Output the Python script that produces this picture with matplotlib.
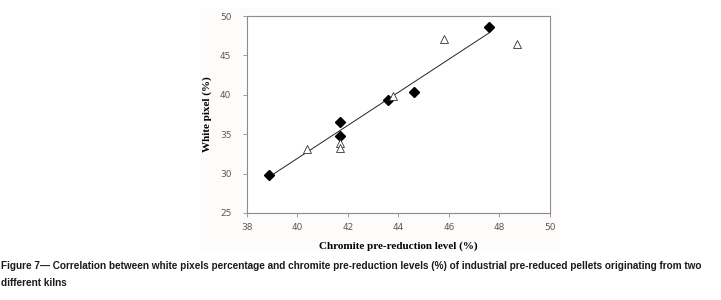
import numpy as np
import matplotlib
matplotlib.use('Agg')
import matplotlib.pyplot as plt
from matplotlib import font_manager
from matplotlib.patches import Rectangle

# kiln A (filled diamonds)
kiln_a_x = [38.9, 41.7, 41.7, 43.6, 44.6, 47.6]
kiln_a_y = [29.8, 36.6, 34.8, 39.3, 40.4, 48.6]
# kiln B (open triangles)
kiln_b_x = [40.4, 41.7, 41.7, 43.8, 45.8, 48.7]
kiln_b_y = [33.1, 33.9, 33.2, 39.9, 47.1, 46.4]

xticks = [38, 40, 42, 44, 46, 48, 50]
yticks = [25, 30, 35, 40, 45, 50]

cap_line1 = ("Figure 7\u2014 Correlation between white pixels percentage and chromite pre-reduction "
             "levels (%) of industrial pre-reduced pellets originating from two")
cap_line2 = "different kilns"

names = {f.name for f in font_manager.fontManager.ttflist}
cap_font = 'Liberation Sans Narrow' if 'Liberation Sans Narrow' in names else 'Liberation Sans'

fig = plt.figure(figsize=(7.21, 3.0), dpi=100)
fig.patches.append(Rectangle((200/721, 1-252/300), 360/721, 244/300, transform=fig.transFigure,
                             facecolor='#fdfcfa', edgecolor='none', zorder=-5))
ax = fig.add_axes([246.7/721, 1-213/300, (550-246.7)/721, (213-16)/300])
ax.set_facecolor('white')
ax.set_zorder(1)

# trend line from kiln A
p = np.polyfit(kiln_a_x, kiln_a_y, 1)
xs = np.array([min(kiln_a_x), max(kiln_a_x)])
ax.plot(xs, np.polyval(p, xs), color='#222222', lw=0.7, zorder=2)

ax.plot(kiln_a_x, kiln_a_y, 'D', color='black', ms=5.2, zorder=3, linestyle='none')
ax.plot(kiln_b_x, kiln_b_y, '^', mfc='white', mec='#333333', mew=0.6, ms=5.8, zorder=3, linestyle='none')

ax.set_xlim(38, 50)
ax.set_ylim(25, 50)
ax.set_xticks(xticks)
ax.set_yticks(yticks)
for s in ax.spines.values():
    s.set_color('#8c8c8c')
    s.set_linewidth(0.8)
ax.tick_params(colors='#8c8c8c', labelcolor='#595959', labelsize=6.5, length=3, width=0.6)
ax.tick_params(axis='x', pad=4)
ax.tick_params(axis='y', pad=8)

ax.set_xlabel('Chromite pre-reduction level (%)', family='Liberation Serif', fontweight='bold',
              fontsize=8, labelpad=7)
ax.set_ylabel('White pixel (%)', family='Liberation Serif', fontweight='bold', fontsize=8, labelpad=6)

t1 = fig.text(0.001, 1-266/300, cap_line1, family=cap_font, fontweight='bold', fontsize=8.5,
              va='center', ha='left', color='#1a1a1a')
t2 = fig.text(0.001, 1-283/300, cap_line2, family=cap_font, fontweight='bold', fontsize=8.5,
              va='center', ha='left', color='#1a1a1a')

# shrink caption to fit the width of the picture
r = fig.canvas.get_renderer()
w = t1.get_window_extent(r).width
if w > 705:
    fs = 8.5 * 705 / w
    t1.set_fontsize(fs)
    t2.set_fontsize(fs)

fig.savefig('out.png', dpi=100)
